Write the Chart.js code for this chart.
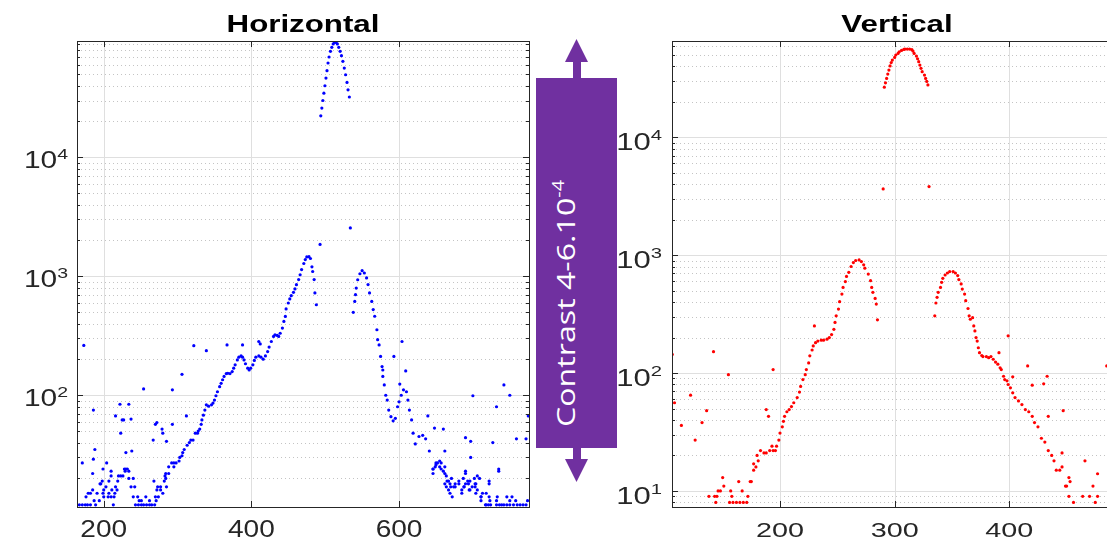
<!DOCTYPE html>
<html>
<head>
<meta charset="utf-8">
<script src="https://cdn.jsdelivr.net/npm/chart.js@4.4.1/dist/chart.umd.min.js"></script>
<style>
  html, body { margin: 0; padding: 0; background: #fff; }
  body { width: 1107px; height: 539px; overflow: hidden; position: relative; }
  canvas { position: absolute; top: 0; }
  svg { position: absolute; left: 0; top: 0; }
</style>
</head>
<body>
<canvas id="chartH" width="540" height="539" style="left:0"></canvas>
<canvas id="chartV" width="530" height="539" style="left:600px"></canvas>
<svg width="1107" height="539">
  <g fill="#7030a0">
    <rect x="536" y="78" width="81" height="370"/>
    <rect x="573" y="60" width="8" height="20"/>
    <polygon points="565,62 588,62 576.5,39"/>
    <rect x="573" y="446" width="8" height="15"/>
    <polygon points="565,459 588,459 576.5,482"/>
  </g>
  <text transform="translate(575,427) rotate(-90)" fill="#fff" font-family="Open Sans" font-size="26"
        textLength="247" lengthAdjust="spacingAndGlyphs">Contrast 4-6.10<tspan dy="-11" font-size="16">-4</tspan></text>
</svg>
<script>
// ---- Horizontal profile (blue) ----
const horizCurveX = [292,295,298,302,303,306,307,309,313,316,318,321,324,327,328,330,332,333,335,337,
  339,342,346,348,350,352,354,357,359,361,363,366,368,371,374,376,378,381,383,386,
  388,390,392,395,397,399,402,404,406,410,413,416,419,422,424,427,430,432,435,437,
  439,442,444,446,447,450,452,454,457,459,461,464,466,468,471,473,475,478,480,482,
  483,485,486,488];
const horizCurveY = [27,27,27,28,30,31,33,35,38,40,42,42,48,48,50,52,57,62,68,75,
  83,81,83,86,91,99,107,118,126,135,144,152,153,152,158,169,180,198,209,214,
  209,198,184,169,163,169,180,196,209,214,209,201,214,233,254,283,312,322,318,312,
  332,367,417,460,531,596,645,687,733,782,850,938,1030,1137,1280,1380,1455,1460,1410,1200,
  1096,938,725,576];

const horizPeakX = [494.0,495.4,496.8,498.2,499.6,501.0,502.4,503.8,505.2,507.1,508.9,510.8,
  512.7,514.5,516.4,518.3,520.2,522.0,523.9,525.8,527.6,529.5,530.9,532.7];
const horizPeakY = [22300,25900,30000,34600,39900,46300,53400,62000,69600,77700,83900,89600,
  92500,92500,89600,83900,77700,71400,64000,56200,49400,42600,36900,32100];

const horizFlankX = [538,540,541,542,544,547,550,553,556,558,560,563,565,567,570,571,573,575,577,578,
  580,582,584,586,589,592,595,598,600,603,606,610,612,614,617,619,622,627,632,636,
  641,646,650,655,660,664,669,674,681,688,695,704,711,718];
const horizFlankY = [498,615,700,795,935,1050,1115,1065,968,851,725,615,525,461,355,293,265,212,174,144,
  122,100,91,75,66,61,64,80,88,100,111,107,91,75,62,48,39,45,46,43,
  34,24,26,28,23,21,18,17,18,17,16,15,14,12];

const horizNoiseX = [
  173,186,216,222,227,234,237,254,272,293,306,312,322,339,367,388,410,412,493,534,
  167,171,175,178,182,189,213,243,247,251,254,258,262,265,269,
  187,194,248,251,262,271,
  176,200,206,210,214,240,246,257,270,274,
  179,182,191,199,207,215,280,
  185,200,211,218,272,277,
  203,216,237,242,273,277,285,
  195,196,
  198,207,219,268,282,
  234,240,284,
  210,220,223,226,283,
  185,284,288,
  210,229,234,
  199,228,230,232,
  288,295,
  171,204,186,230,188,238,267,285,223,280,279,270,293,225,
  578,593,601,604,609,639,648,660,662,690,697,700,697,690,706,727,732,735,742,750,759,772,775,722,703,665,
  717,721,724,732,736,739,742,746,750,755,760,764,768,772,
  711,723,732,750,758,774,
  672,711,722,733,746,753,
  669,685,713,718,
  667,685,696,706,
  664,670,676,688,699,703,
  662,676,690,694,704,722,
  667,681,693,696,
  671,687,702,709,
  646,662,690,
  646,657,735,
  649,655,662,
  650,652,657];
const horizNoiseY = [
  262,75,67,84,62,84,63,113,59,111,150,67,261,237,265,265,283,270,1850,2550,
  12,12,12,12,12,12,12,12,12,12,12,12,12,12,12,
  13,13,13,13,13,13,
  14,14,14,14,14,14,14,14,14,14,
  15,15,15,15,15,15,15,
  16,16,16,16,16,16,
  17,17,17,17,17,17,17,
  18,18,
  19,19,19,19,19,
  20,20,20,
  21,21,21,21,21,
  22,22,22,
  23,23,23,
  24,24,24,24,
  25,25,
  27,27,29,33,35,34,42,41,48,48,52,57,57,62,
  163,212,124,283,160,67,53,52,34,44,41,99,30,23,21,40,80,23,122,100,43,43,67,19,18,19,
  12,12,12,12,12,12,12,12,12,12,12,12,12,12,
  13,13,13,13,13,13,
  14,14,14,14,14,14,
  15,15,15,15,
  16,16,16,16,
  17,17,17,17,17,17,
  18,18,18,18,18,18,
  19,19,19,19,
  20,20,20,20,
  22,22,22,
  24,24,24,
  25,25,25,
  27,27,27];

// ---- Vertical profile (red) ----
const vertCurveX = [180,183,186,188,191,194,197,199,200,202,203,204,206,208,210,212,215,217,218,220,
  222,223,225,226,228,229,231,233,236,238,241,243,245,247,248,249,251,252,254,255,
  257,258,260,262,264,266,269,271,273,274,277,279,280,281,283,284,285];
const vertCurveY = [20,22,21,21,22,22,24,27,31,35,39,43,47,49,52,56,62,69,77,88,
  97,107,122,140,157,170,181,187,190,190,194,200,212,235,269,306,349,403,468,533,
  597,661,716,802,866,901,912,883,828,776,692,608,533,484,430,385,283];

const vertPeakX = [291,292,293,294,295,296,297,298,300,301,303,304,306,308,309,
  311,313,315,316,317,319,320,321,322,323,324,326,327,328,329];
const vertPeakY = [26600,29000,31600,34400,37200,40300,43000,45200,47600,49900,51500,53200,54600,55700,56000,
  56000,56000,55400,53900,51500,48900,46400,43800,41000,38500,36000,33700,31600,29800,27800];

const vertFlankX = [335,336,337,338,340,341,342,344,346,348,351,353,355,356,358,359,361,362,364,365,
  366,369,370,371,372,373,374,376,377,380,382,384,386,388,390,392,393,395,396,398,
  399,401,403,405,408,411,414,417,420,422,425,428,431,434,437,439,441,444,446,449,
  450,452,453];
const vertFlankY = [306,393,439,484,533,589,637,679,706,726,726,706,671,621,570,516,468,411,353,306,
  286,251,228,200,187,164,149,141,138,138,135,138,131,124,119,111,107,94,88,86,
  80,75,68,62,58,54,49,47,43,38,35,28,26,22,20,18,15,15,16,11,
  11,13,12];

const vertNoiseX = [
  106,108,114,122,126,132,136,142,155,188,190,194,193,196,230,368,391,399,403,416,
  420,430,433,434,447,446,466,477,473,485,290,330,
  144,156,159,162,165,168,171,456,475,
  138,143,145,158,172,452,464,470,477,
  146,148,157,167,
  151,164,174,175,150,177,179,177,181];
const vertNoiseY = [
  144,56,36,65,27,38,48,152,97,49,43,107,24,22,251,295,149,207,93,115,
  79,81,94,43,48,21,18,14,11,115,3650,3820,
  8,8,8,8,8,8,8,8,8,
  9,9,9,9,9,9,9,9,9,
  10,10,10,10,
  11,12,12,12,13,15,16,17,18];

// ---- axes ----
const horizXTicks = [200, 400, 600];
const horizYTicks = [100, 1000, 10000];
const vertXTicks = [200, 300, 400];
const vertYTicks = [10, 100, 1000, 10000];

const toPoints = (xs, ys) => xs.map((v, i) => ({ x: v, y: ys[i] }));
const FONT = '"Liberation Sans", Arial, sans-serif';

function stretchedText(ctx, str, x, y, sx, align) {
  ctx.save();
  ctx.translate(x, y);
  ctx.scale(sx, 1);
  ctx.textAlign = align;
  ctx.fillText(str, 0, 0);
  ctx.restore();
}

function hline(ctx, a, py, x0, x1) {
  py = Math.round(py) + 0.5;
  ctx.beginPath();
  ctx.moveTo(x0 === undefined ? a.left : x0, py);
  ctx.lineTo(x1 === undefined ? a.right : x1, py);
  ctx.stroke();
}

function vline(ctx, a, px, y0, y1) {
  px = Math.round(px) + 0.5;
  ctx.beginPath();
  ctx.moveTo(px, y0 === undefined ? a.top : y0);
  ctx.lineTo(px, y1 === undefined ? a.bottom : y1);
  ctx.stroke();
}

function minorValues(scale) {
  const out = [];
  for (let d = 1; d < scale.max; d *= 10) {
    for (let m = 2; m < 10; m++) {
      const v = d * m;
      if (v > scale.min && v < scale.max) out.push(v);
    }
  }
  return out;
}

const matlabAxes = {
  id: 'matlabAxes',
  beforeDatasetsDraw(chart, args, o) {
    const { ctx, chartArea: a, scales: { x, y } } = chart;
    ctx.save();
    ctx.lineWidth = 1;
    ctx.strokeStyle = '#c4c4c4';
    ctx.setLineDash([1, 3]);
    minorValues(y).forEach(v => hline(ctx, a, y.getPixelForValue(v)));
    ctx.setLineDash([]);
    ctx.strokeStyle = '#dfdfdf';
    o.yTicks.forEach(v => hline(ctx, a, y.getPixelForValue(v)));
    o.xTicks.forEach(v => vline(ctx, a, x.getPixelForValue(v)));
    ctx.restore();
  },
  afterDatasetsDraw(chart, args, o) {
    const { ctx, chartArea: a, scales: { x, y } } = chart;
    ctx.save();
    ctx.strokeStyle = '#262626';
    ctx.lineWidth = 1;
    ctx.strokeRect(Math.round(a.left) + 0.5, Math.round(a.top) + 0.5,
      Math.round(a.right - a.left), Math.round(a.bottom - a.top));
    // tick marks, inside the box on both sides
    minorValues(y).forEach(v => {
      const py = y.getPixelForValue(v);
      hline(ctx, a, py, a.left, a.left + 3);
      hline(ctx, a, py, a.right - 3, a.right);
    });
    o.yTicks.forEach(v => {
      const py = y.getPixelForValue(v);
      hline(ctx, a, py, a.left, a.left + 6);
      hline(ctx, a, py, a.right - 6, a.right);
    });
    o.xTicks.forEach(v => {
      const px = x.getPixelForValue(v);
      vline(ctx, a, px, a.top, a.top + 6);
      vline(ctx, a, px, a.bottom - 6, a.bottom);
    });
    // tick labels
    ctx.fillStyle = '#262626';
    ctx.textBaseline = 'alphabetic';
    ctx.font = o.xFont + 'px ' + FONT;
    o.xTicks.forEach(v => stretchedText(ctx, String(v), x.getPixelForValue(v), o.xBase, o.xSx, 'center'));
    o.yTicks.forEach(v => {
      const py = y.getPixelForValue(v);
      const e = String(Math.round(Math.log10(v)));
      ctx.font = o.expFont + 'px ' + FONT;
      const w2 = ctx.measureText(e).width * o.ySx;
      ctx.font = o.yFont + 'px ' + FONT;
      const w1 = ctx.measureText('10').width * o.ySx;
      const right = a.left - o.yGap;
      stretchedText(ctx, '10', right - w2 - w1, py + o.yBase, o.ySx, 'left');
      ctx.font = o.expFont + 'px ' + FONT;
      stretchedText(ctx, e, right - w2, py + o.expBase, o.ySx, 'left');
    });
    // title
    ctx.fillStyle = '#000';
    ctx.font = 'bold 23px ' + FONT;
    stretchedText(ctx, o.title, (a.left + a.right) / 2, 32, 1.36, 'center');
    ctx.restore();
  }
};

function makeChart(id, datasets, xr, yr, pad, yWidth, deco) {
  return new Chart(document.getElementById(id).getContext('2d'), {
    type: 'scatter',
    data: { datasets },
    options: {
      responsive: false,
      animation: false,
      layout: { padding: pad },
      plugins: { legend: { display: false }, tooltip: { enabled: false }, matlabAxes: deco },
      scales: {
        x: {
          type: 'linear', min: xr[0], max: xr[1],
          ticks: { display: false }, grid: { display: false }, border: { display: false },
          afterFit: s => { s.height = 32; }
        },
        y: {
          type: 'logarithmic', min: yr[0], max: yr[1],
          ticks: { display: false }, grid: { display: false }, border: { display: false },
          afterFit: s => { s.width = yWidth; }
        }
      }
    },
    plugins: [matlabAxes]
  });
}

const dot = color => ({ backgroundColor: color, borderWidth: 0, pointRadius: 1.6, pointHoverRadius: 1.6 });

makeChart('chartH', [
  { label: 'curve', data: toPoints(horizCurveX, horizCurveY), ...dot('#0000ff') },
  { label: 'peak', data: toPoints(horizPeakX, horizPeakY), ...dot('#0000ff') },
  { label: 'flank', data: toPoints(horizFlankX, horizFlankY), ...dot('#0000ff') },
  { label: 'noise', data: toPoints(horizNoiseX, horizNoiseY), ...dot('#0000ff') }
], [163.8, 776], [11.5, 94900], { top: 41, right: 11, left: 0, bottom: 0 }, 77, {
  title: 'Horizontal', xTicks: horizXTicks, yTicks: horizYTicks,
  xFont: 23, xSx: 1.22, xBase: 537,
  yFont: 23, expFont: 15, ySx: 1.3, yBase: 11, expBase: 2, yGap: 9
});

makeChart('chartV', [
  { label: 'curve', data: toPoints(vertCurveX, vertCurveY), ...dot('#ff0000') },
  { label: 'peak', data: toPoints(vertPeakX, vertPeakY), ...dot('#ff0000') },
  { label: 'flank', data: toPoints(vertFlankX, vertFlankY), ...dot('#ff0000') },
  { label: 'noise', data: toPoints(vertNoiseX, vertNoiseY), ...dot('#ff0000') }
], [105.8, 498.3], [7.31, 65600], { top: 41, right: 8, left: 0, bottom: 0 }, 72, {
  title: 'Vertical', xTicks: vertXTicks, yTicks: vertYTicks,
  xFont: 21, xSx: 1.37, xBase: 537,
  yFont: 23, expFont: 15, ySx: 1.35, yBase: 13, expBase: 3, yGap: 10
});
</script>
</body>
</html>
